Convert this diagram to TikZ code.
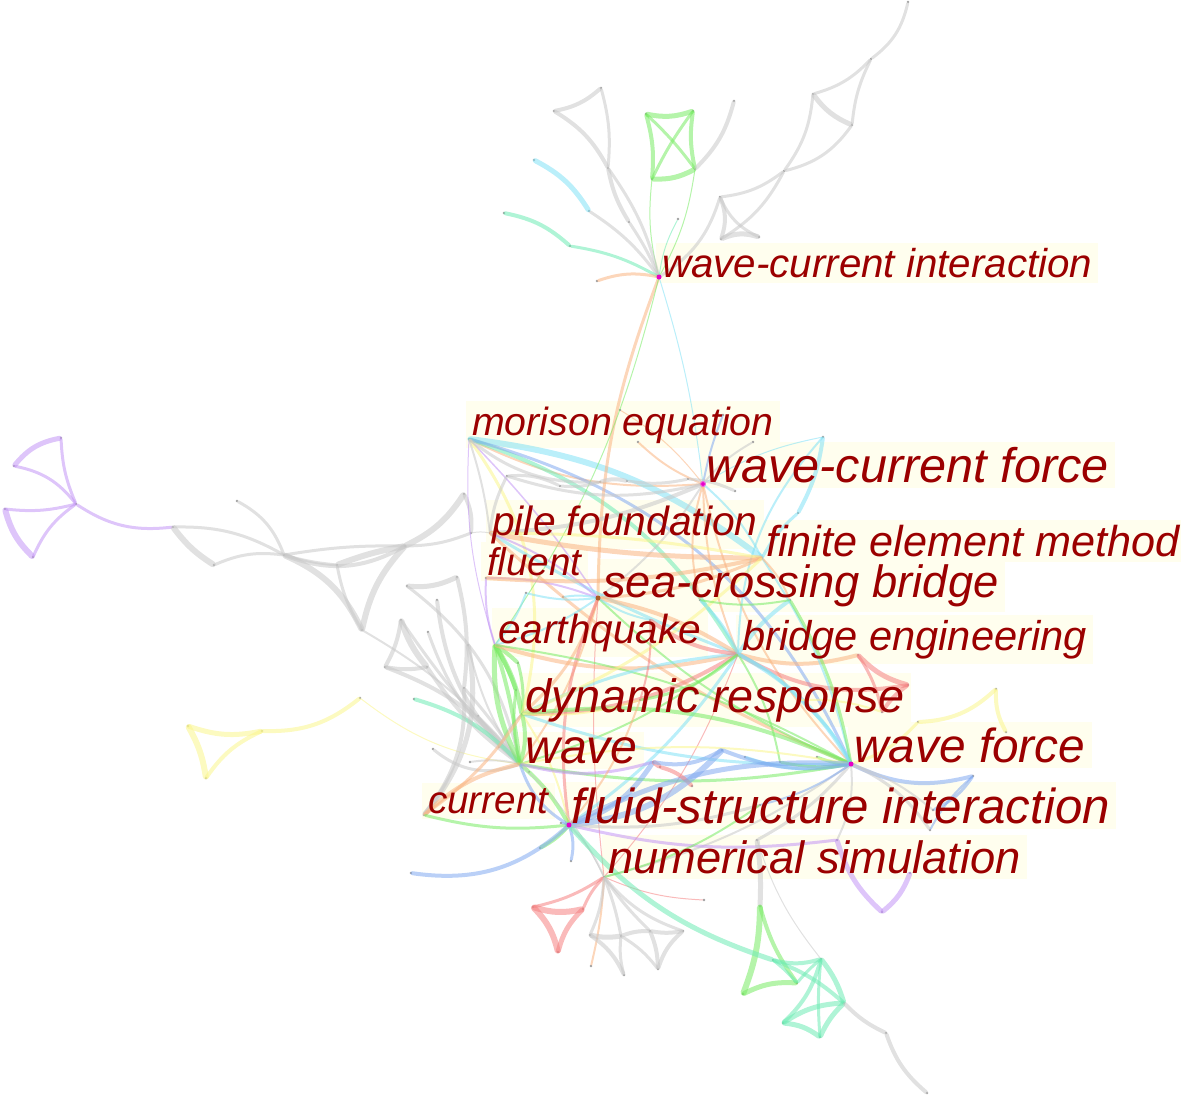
\documentclass[tikz,border=0pt]{standalone}
\usepackage{fontspec}
\setmainfont{Liberation Sans}
\usetikzlibrary{backgrounds}
\definecolor{kgray}{RGB}{200,200,200}
\definecolor{kgreen}{RGB}{120,235,100}
\definecolor{kteal}{RGB}{110,235,180}
\definecolor{kcyan}{RGB}{130,225,245}
\definecolor{korange}{RGB}{250,180,130}
\definecolor{kred}{RGB}{245,130,130}
\definecolor{kblue}{RGB}{130,170,240}
\definecolor{kpurple}{RGB}{195,150,245}
\definecolor{kyellow}{RGB}{250,245,140}
\definecolor{cream}{RGB}{255,254,238}
\definecolor{txtred}{RGB}{155,0,0}
\definecolor{hubmag}{RGB}{230,0,200}
\definecolor{hubbrown}{RGB}{170,90,40}
\tikzset{
  dot/.style={circle,inner sep=0pt,minimum size=2.6pt,fill=gray!75},
  hubdot/.style={circle,inner sep=0pt,minimum size=5pt,fill=#1},
  lab/.style={text=txtred,anchor=base west,inner sep=0pt},
  edge/.style={line cap=round,opacity=.55},
  labbg/.style={fill=cream}
}
\begin{document}
\begin{tikzpicture}[x=1pt,y=-1pt]
\useasboundingbox (0,0) rectangle (1181,1096);
% ---------------- nodes (dots)
\foreach \n/\x/\y in {
 wci/659/277, mor/469/439, wcf/703/484, pile/490/533, fem/762/558, flu/486/578,
 scb/598/598, eq/495/645, be/738/654, dr/522/714, wave/520/764, wf/851/764,
 cur/424/815, fsi/569/825, ns/604/877,
 t1/646/114, t2/693/111, t3/652/179, t4/695/169, t5/601/88, t6/554/111, t7/608/168,
 t8/629/222, t9/734/101, t10/534/160, t11/589/211, t12/504/213, t13/570/246,
 t14/678/219, t15/597/281,
 r1/720/197, r2/721/239, r3/759/237, r4/784/171, r5/813/94, r6/852/125, r7/871/59, r8/908/2,
 p1/61/438, p2/14/466, p3/76/504, p4/5/509, p5/33/557, p6/173/527,
 l1/214/565, l2/284/555, l3/237/501, l4/337/565, l5/405/546, l6/362/630, l7/464/494, l8/471/533,
 y1/188/726, y2/262/731, y3/206/778, y4/360/698,
 g1/401/620, g2/385/667, g3/427/667, g4/428/632, g5/468/645, g6/464/688, g7/478/716,
 g8/499/747, g9/470/762, g10/529/772, te1/414/699, gr1/518/663, gr2/516/690,
 g11/437/600, g12/407/586, g13/457/577, g14/433/749,
 c1/823/437, c2/798/513, c3/723/415, c4/620/410, c5/753/442, c6/638/442,
 m1/507/476, m2/560/486, m3/600/482, m4/627/481, m5/688/479, m6/735/491,
 s1/526/593, s2/563/597,
 k1/858/655, k2/908/685, k3/882/712,
 b1/973/776, b2/933/810, y5/918/722, y6/996/689, y7/1006/732,
 pu1/882/912, pu2/837/840, pu3/910/873,
 bl1/653/762, bl2/722/750, rd1/660/767, rd2/692/786, gg1/780/762, gg2/817/757, gg3/745/757,
 fb1/561/823, fb2/571/861, fg1/540/848, bb1/411/873,
 rt1/533/907, rt2/583/909, rt3/558/952, o1/591/966,
 h1/590/935, h2/621/936, h3/650/931, h4/683/931, h5/624/975, h6/658/969,
 q1/760/906, q2/743/994, q3/773/960, q4/797/983, q5/821/959, q6/844/1003,
 q7/783/1023, q8/820/1037, q9/886/1033, q10/927/1093, q11/757/840, q12/704/900,
 z1/650/620, z2/700/600, z3/790/600, z4/640/700, z5/800/700, z6/760/805, z7/930/830}
 {\node[dot] (\n) at (\x,\y) {};}
% ---------------- connectors
\foreach \ea/\eb/\ec/\ew/\ek in {
 t1/t2/kgreen/5/-15, t1/t3/kgreen/4/10, t2/t4/kgreen/4/-10, t3/t4/kgreen/5/-15,
 t1/t4/kgreen/3/5, t2/t3/kgreen/3/-5, wci/t3/kgreen/1/10, wci/t4/kgreen/1/-10,
 t4/t9/kgray/4/-15, t5/t6/kgray/4/15, t6/t7/kgray/4/15, t5/t7/kgray/3/10,
 t7/t8/kgray/4/-10, t7/wci/kgray/3/10, t8/wci/kgray/3/5, t11/wci/kgray/3/10,
 t10/t11/kcyan/5/15, t12/t13/kteal/4/15, t13/wci/kteal/3/10, t14/wci/kteal/1/-10,
 t15/wci/korange/3/15,
 wci/r1/kgray/3/-20, r1/r2/kgray/4/20, r1/r3/kgray/3/-20, r2/r3/kgray/5/20,
 r2/r4/kgray/3/-15, r1/r4/kgray/3/-15, r4/r5/kgray/3/-15, r4/r6/kgray/3/-20,
 r5/r6/kgray/5/-15, r5/r7/kgray/3/-15, r6/r7/kgray/3/10, r7/r8/kgray/3/-20,
 p1/p2/kpurple/5/-20, p2/p3/kpurple/3/20, p1/p3/kpurple/3/-10, p3/p4/kpurple/3/10,
 p4/p5/kpurple/6/-15, p5/p3/kpurple/3/15, p3/p6/kpurple/3/-20,
 p6/l1/kgray/6/-10, l1/l2/kgray/3/15, p6/l2/kgray/3/15, l3/l2/kgray/3/20,
 l2/l5/kgray/4/-25, l2/l5/kgray/3/5, l2/l4/kgray/3/-5, l4/l5/kgray/6/5,
 l2/l6/kgray/6/20, l4/l6/kgray/3/-10, l5/l6/kgray/6/-15, l5/l7/kgray/6/-15,
 l7/l8/kgray/4/15, l5/l8/kgray/3/-10, l8/pile/kgray/1/10, l6/wave/kgray/2/10,
 y1/y2/kyellow/5/-15, y1/y3/kyellow/6/10, y3/y2/kyellow/4/15, y2/y4/kyellow/4/-20,
 y4/wave/kyellow/1/-15,
 g1/g2/kgray/4/10, g1/g3/kgray/6/-10, g2/g3/kgray/4/-10, g2/wave/kgray/4/15,
 g3/wave/kgray/4/-10, g1/wave/kgray/3/-5, g4/wave/kgray/3/-15, g11/wave/kgray/4/-20,
 g12/g13/kgray/5/-15, g13/g6/kgray/4/10, g12/wave/kgray/3/20, g5/wave/kgray/2/-10,
 g6/wave/kgray/3/5, g7/wave/kgray/2/5, g14/wave/kgray/3/-30, te1/wave/kteal/4/15,
 cur/g5/kgray/5/-25, cur/g6/kgray/4/-20, g9/wave/kgray/2/10, g8/dr/kgray/2/10,
 eq/gr1/kgreen/4/5, eq/gr2/kgreen/4/5, eq/dr/kgreen/5/10, eq/wave/kgreen/5/-15,
 eq/wave/kgreen/4/5, gr1/dr/kgreen/3/10, gr2/wave/kgreen/3/-10,
 mor/wcf/korange/2/-15, mor/fem/kcyan/6/15, mor/be/kteal/4/20, mor/wf/kblue/3/25,
 mor/scb/kpurple/1.5/5, mor/dr/kyellow/3/25, mor/eq/kpurple/1/-10, mor/pile/kgray/2/5,
 wci/scb/korange/3/-10, wci/wcf/kcyan/1/5, wci/eq/kgreen/1/10,
 wcf/scb/kgray/2/10, wcf/pile/kgray/4/10, wcf/be/korange/2/-10, wcf/wf/korange/2/-15,
 wcf/fem/kcyan/2/10, wcf/c3/kblue/2/5, wcf/c4/korange/1/-10, wcf/c5/kgray/2/10,
 wcf/m1/kgray/3/15, wcf/c1/kcyan/1/10, wcf/c6/korange/2/10,
 c1/c2/kcyan/4/10, c2/fem/kcyan/3/-10, c1/be/kcyan/2/-20,
 m1/m2/kgray/3/15, m2/m3/kgray/3/-10, m3/m4/kgray/4/15, m4/m5/kgray/3/-10,
 m1/pile/kgray/3/-10, m3/mor/kgray/3/20, m5/m6/kgray/3/10,
 pile/fem/korange/5/-5, pile/fem/kyellow/3/5, pile/be/kcyan/3/-5, pile/scb/kpurple/2/10,
 pile/wf/korange/3/-10, flu/scb/kpurple/2/10, flu/fem/korange/4/-8, flu/eq/kpurple/2/-10,
 scb/s1/kcyan/2/10, scb/s2/kcyan/2/-10, s1/eq/kcyan/2/10,
 scb/eq/kcyan/2/10, scb/be/korange/4/10, scb/wf/kgreen/2/-10, scb/dr/korange/3/15,
 scb/wave/korange/2/10, scb/fsi/kred/3/-15, scb/fem/korange/3/-10, scb/ns/kred/1/-5,
 eq/be/korange/4/-15, eq/wf/kgreen/2/10,
 be/k1/korange/4/-15, be/k2/kred/4/-20, k1/k2/kred/5/-15, k1/k3/kred/3/10,
 k2/k3/kred/4/-10, be/dr/kred/4/15, be/wf/kcyan/4/15, be/fsi/kcyan/3/10,
 be/wave/kgreen/2/10, be/dr/kcyan/3/-10, be/ns/kred/1/10,
 dr/wf/kgreen/4/15, dr/wf/kcyan/3/-10, dr/fsi/kyellow/2/10, dr/cur/korange/3/10,
 dr/wave/kgreen/4/15, dr/fem/kyellow/3/-10,
 gg1/wf/kgreen/3/-10, gg2/wf/kgreen/3/-10, gg3/wf/kcyan/3/-15, be/gg1/kgreen/2/10,
 wave/wf/kgreen/3/-10, wave/wf/kyellow/2/10, wave/fsi/kgreen/4/10, wave/cur/korange/4/-15,
 wave/ns/kgray/1/10, wave/bl1/kpurple/3/-15, wave/fsi/kblue/3/-20,
 wf/y5/kyellow/3/-15, y5/y6/kyellow/4/-20, y6/y7/kyellow/4/-15, wf/b1/kblue/4/-20,
 b2/b1/kblue/3/-15, wf/b2/kgray/2/10, wf/fsi/kblue/5/-15, wf/fem/kcyan/2/-10,
 wf/ns/kgray/2/10, wf/pu2/kgray/2/15,
 pu2/pu1/kpurple/5/-15, pu3/pu1/kpurple/5/15, fsi/pu2/kpurple/3/-10,
 fsi/bl1/kblue/5/-20, fsi/ns/kgray/2/10, cur/fsi/kgreen/3/-10,
 bl1/rd1/kred/5/10, rd1/rd2/kred/4/15, bl1/bl2/kblue/4/-20, bl2/fsi/kblue/6/20,
 wf/bl2/kblue/4/15, fsi/fb1/kblue/2/-10, fsi/fb2/kblue/3/15, fsi/fg1/kgreen/4/10,
 bb1/fsi/kblue/4/-25,
 ns/rt1/kred/3/10, ns/rt2/kred/3/-10, rt1/rt2/kred/6/-15, rt1/rt3/kred/6/15,
 rt2/rt3/kred/5/-15, ns/o1/korange/2/5, ns/q12/kred/1/-10,
 ns/h1/kgray/3/10, ns/h2/kgray/3/5, ns/h3/kgray/3/-5, ns/h4/kgray/3/-15,
 h1/h2/kgray/5/-10, h2/h3/kgray/4/10, h3/h4/kgray/4/-10, h1/h5/kgray/4/15,
 h2/h5/kgray/3/-10, h3/h6/kgray/4/10, h4/h6/kgray/4/-15, h2/h6/kgray/3/10,
 q11/q1/kgray/5/5, q1/q2/kgreen/6/10, q1/q4/kgreen/4/-10, q2/q4/kgreen/5/15,
 q3/q5/kteal/4/-15, q3/q6/kteal/4/10, q3/q4/kteal/3/5, q5/q4/kteal/3/-5,
 q5/q6/kteal/5/10, q5/q7/kteal/4/15, q6/q7/kteal/5/-15, q6/q8/kteal/5/-10,
 q7/q8/kteal/5/15, q5/q8/kteal/3/-5, q6/q9/kgray/4/-10, q9/q10/kgray/4/-15,
 fsi/q3/kteal/5/-15, wf/q11/kgray/3/10, q11/q5/kgray/1/-10,
 z1/scb/kcyan/2/10, z1/be/kred/4/-15, z2/be/kcyan/3/10, z2/wcf/korange/2/15,
 z3/be/kcyan/4/-10, z3/wf/kgreen/3/10, z3/fem/korange/2/-10, z4/dr/kyellow/2/10,
 z4/be/kgreen/3/-15, z4/fsi/korange/2/10, z5/wf/kcyan/3/10, z5/be/kcyan/3/-10,
 z5/k3/kyellow/2/10, z6/fsi/kgray/3/10, z6/wf/kblue/2/-10, z7/wf/kgray/3/-15,
 z7/b1/kblue/2/10, z1/z4/kred/2/10, z2/z3/kgreen/2/-10, z6/ns/kgreen/2/10}
 {\draw[edge,\ec,line width=\ew pt] (\ea) to[bend left=\ek] (\eb);}
% hub dots
\node[hubdot=hubmag] at (wci) {};
\node[hubdot=hubmag,draw=hubmag!60,line width=1pt] at (wcf) {};
\node[hubdot=hubbrown] at (scb) {};
\node[hubdot=hubmag] at (wf) {};
\node[hubdot=hubmag] at (fsi) {};
% ---------------- labels
\node[lab,font=\fontsize{40.3}{40}\selectfont\itshape] (Lwci) at (662,277) {wave-current interaction};
\node[lab,font=\fontsize{39.3}{40}\selectfont\itshape] (Lmor) at (472,435) {morison equation};
\node[lab,font=\fontsize{48.6}{48}\selectfont\itshape] (Lwcf) at (706,482) {wave-current force};
\node[lab,font=\fontsize{40.8}{40}\selectfont\itshape] (Lpile) at (492,535) {pile foundation};
\node[lab,font=\fontsize{43.2}{42}\selectfont\itshape] (Lfem) at (766,556) {finite element method};
\node[lab,font=\fontsize{38.6}{38}\selectfont\itshape] (Lflu) at (487,575) {fluent};
\node[lab,font=\fontsize{45.3}{44}\selectfont\itshape] (Lscb) at (603,597) {sea-crossing bridge};
\node[lab,font=\fontsize{40.6}{40}\selectfont\itshape] (Leq) at (498,643) {earthquake};
\node[lab,font=\fontsize{41.6}{41}\selectfont\itshape] (Lbe) at (742,650) {bridge engineering};
\node[lab,font=\fontsize{46.8}{46}\selectfont\itshape] (Ldr) at (525,712) {dynamic response};
\node[lab,font=\fontsize{48.2}{47}\selectfont\itshape] (Lwave) at (525,763) {wave};
\node[lab,font=\fontsize{47.8}{47}\selectfont\itshape] (Lwf) at (854,762) {wave force};
\node[lab,font=\fontsize{38.6}{38}\selectfont\itshape] (Lcur) at (428,813) {current};
\node[lab,font=\fontsize{49.2}{48}\selectfont\itshape] (Lfsi) at (571,823) {fluid-structure interaction};
\node[lab,font=\fontsize{45.3}{44}\selectfont\itshape] (Lns) at (608,873) {numerical simulation};
\begin{scope}[on background layer]
\foreach \L in {Lwci,Lmor,Lwcf,Lpile,Lfem,Lflu,Lscb,Leq,Lbe,Ldr,Lwave,Lwf,Lcur,Lfsi,Lns}
 {\fill[labbg] ([xshift=-6pt,yshift=-5pt]\L.south west) rectangle ([xshift=6pt,yshift=5pt]\L.north east);}
\end{scope}
\end{tikzpicture}
\end{document}
